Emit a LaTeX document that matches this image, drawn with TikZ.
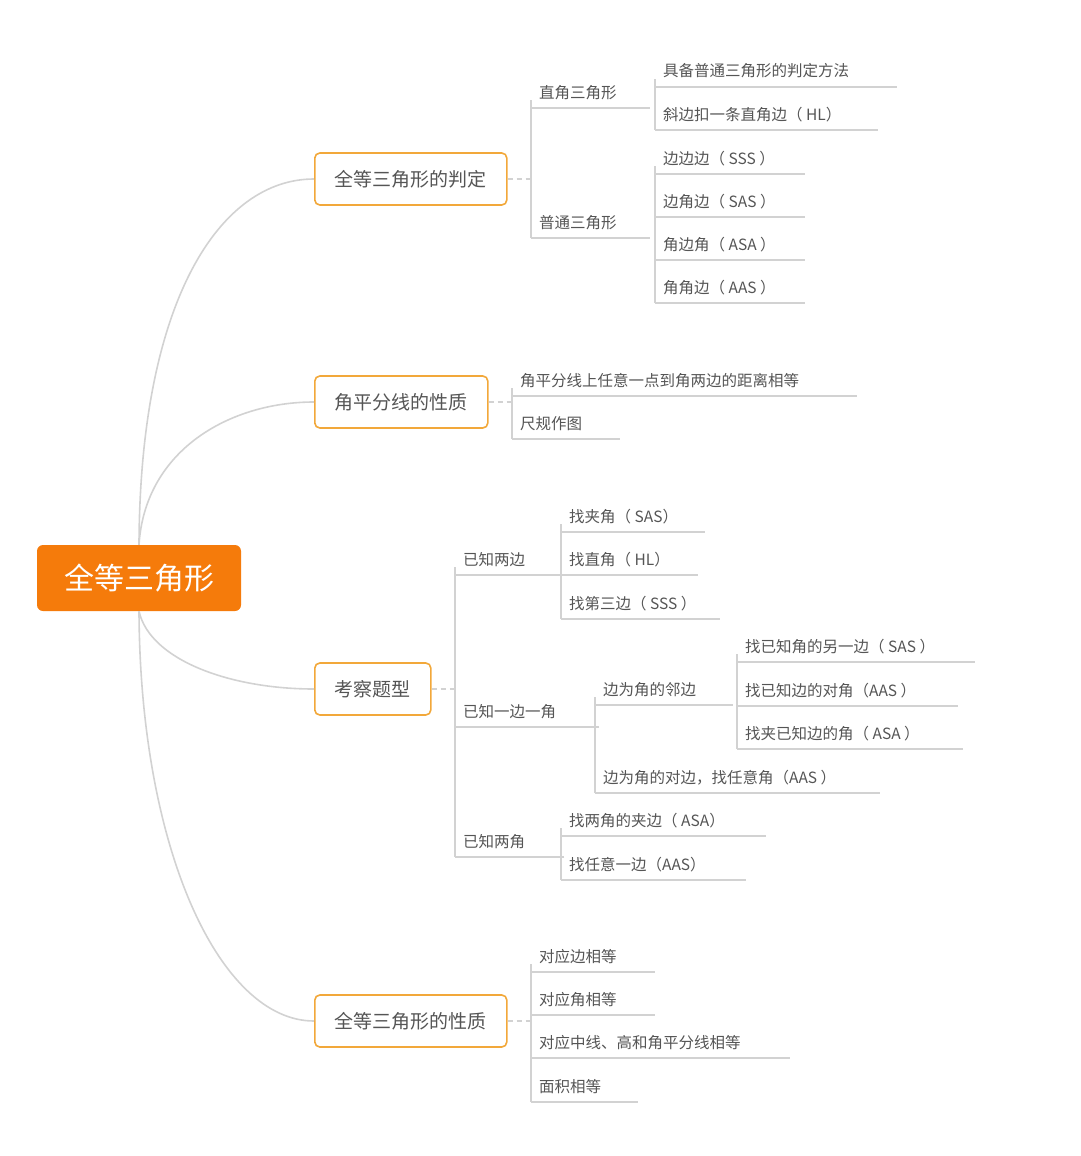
\documentclass[tikz,border=0pt]{standalone}
\usepackage{fontspec}
\setmainfont{Noto Sans CJK SC}
\definecolor{rootorange}{HTML}{F57B0B}
\definecolor{boxorange}{HTML}{F2A83A}
\definecolor{linegray}{HTML}{D2D2D2}
\definecolor{textgray}{HTML}{555555}
\tikzset{every node/.style={inner sep=0pt,text=textgray},
  branch/.style={draw=linegray,line width=1.6pt},
  topic/.style={draw=boxorange,line width=1.6pt,rounded corners=5pt,minimum height=52pt,
    font=\fontsize{19}{19}\selectfont,inner xsep=20pt,anchor=west,fill=white},
  leaftext/.style={anchor=base west,font=\fontsize{15.5}{15.5}\selectfont}}
% leaf: name, x of bracket, y of underline, end x, text
\newcommand{\leaf}[5]{
  \coordinate (#1-a) at (#2+12,#3);
  \coordinate (#1-b) at (#4,#3);
  \node[leaftext] (#1) at (#2+20,#3-10) {#5};
  \draw[branch] (#1-a) -- (#1-b);}
\newcommand{\joint}[3]{\coordinate (#1) at (#2,#3);}
\begin{document}
\begin{tikzpicture}[x=1pt,y=-1pt]
\useasboundingbox (0,0) rectangle (1080,1156);
      \node[fill=rootorange,rounded corners=6pt,minimum width=204pt,minimum height=66pt,
        text=white,font=\fontsize{30}{30}\selectfont] (root) at (139,578) {全等三角形};
      \node[topic] (pd) at (314,179) {全等三角形的判定};
      \node[topic] (jp) at (314,402) {角平分线的性质};
      \node[topic] (kc) at (314,689) {考察题型};
      \node[topic] (xz) at (314,1021) {全等三角形的性质};

\draw[branch] (root.north) .. controls (140,300) and (220,179) .. (pd.west);
\draw[branch] (root.north) .. controls (145,450) and (230,402) .. (jp.west);
\draw[branch] (root.south) .. controls (150,660) and (230,689) .. (kc.west);
\draw[branch] (root.south) .. controls (140,850) and (220,1021) .. (xz.west);

% 判定
\joint{j1}{531}{179}
\leaf{zj}{519}{108}{650}{直角三角形}
\leaf{pt}{519}{238}{650}{普通三角形}
\joint{j11}{655}{108}
\leaf{jb}{643}{87}{897}{具备普通三角形的判定方法}
\leaf{xb}{643}{130}{878}{斜边扣一条直角边（ HL）}
\joint{j12}{655}{238}
\leaf{sss}{643}{174}{805}{边边边（ SSS ）}
\leaf{sas}{643}{217}{805}{边角边（ SAS ）}
\leaf{asa}{643}{260}{805}{角边角（ ASA ）}
\leaf{aas}{643}{303}{805}{角角边（ AAS ）}

% 角平分线
\joint{j2}{512}{402}
\leaf{dl}{500}{396}{857}{角平分线上任意一点到角两边的距离相等}
\leaf{cg}{500}{439}{620}{尺规作图}

% 题型
\joint{j3}{455}{689}
\leaf{lb}{443}{575}{560}{已知两边}
\leaf{yb}{443}{727}{595}{已知一边一角}
\leaf{lj}{443}{857}{560}{已知两角}
\joint{j31}{561}{575}
\leaf{zja}{549}{532}{705}{找夹角（ SAS）}
\leaf{zzj}{549}{575}{698}{找直角（ HL）}
\leaf{zdsb}{549}{619}{720}{找第三边（ SSS ）}
\joint{j32}{595}{727}
\leaf{lin}{583}{705}{733}{边为角的邻边}
\leaf{dui}{583}{793}{880}{边为角的对边，找任意角（AAS ）}
\joint{j321}{737}{705}
\leaf{lbj}{725}{662}{975}{找已知角的另一边（ SAS ）}
\leaf{dbj}{725}{706}{958}{找已知边的对角（AAS ）}
\leaf{jbj}{725}{749}{963}{找夹已知边的角（ ASA ）}
\joint{j33}{561}{857}
\leaf{ljb}{549}{836}{766}{找两角的夹边（ ASA）}
\leaf{ryb}{549}{880}{746}{找任意一边（AAS）}

% 性质
\joint{j4}{531}{1021}
\leaf{db}{519}{972}{655}{对应边相等}
\leaf{dj}{519}{1015}{655}{对应角相等}
\leaf{zx}{519}{1058}{790}{对应中线、高和角平分线相等}
\leaf{mj}{519}{1102}{638}{面积相等}

\foreach \a/\b in {pd/j1,jp/j2,kc/j3,xz/j4}
  \draw[branch,dash pattern=on 5pt off 4pt] (\a.east) -- (\b);
\foreach \a/\b in {zj/j11,pt/j12,lb/j31,yb/j32,lj/j33,lin/j321}
  \draw[branch] (\a-b) ++(4,0) -- (\b);
\foreach \j/\c in {j1/zj,j1/pt,j11/jb,j11/xb,j12/sss,j12/sas,j12/asa,j12/aas,
  j2/dl,j2/cg,j3/lb,j3/yb,j3/lj,j31/zja,j31/zzj,j31/zdsb,j32/lin,j32/dui,
  j321/lbj,j321/dbj,j321/jbj,j33/ljb,j33/ryb,j4/db,j4/dj,j4/zx,j4/mj}
  \draw[branch,rounded corners=8pt] (\j) |- (\c-a);
\end{tikzpicture}
\end{document}
